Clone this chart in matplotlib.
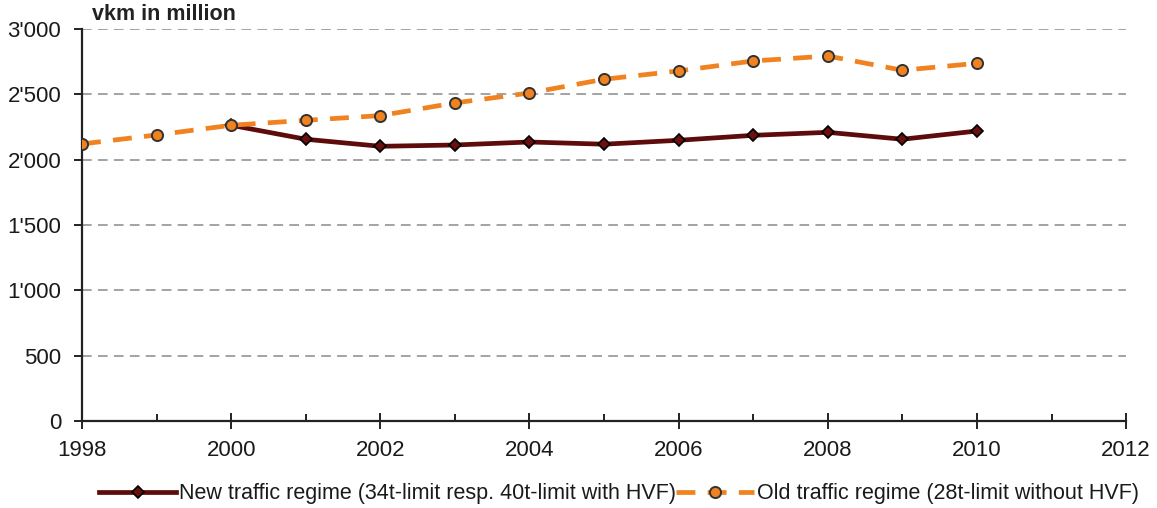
import matplotlib.pyplot as plt
from matplotlib.ticker import FuncFormatter, MultipleLocator

plt.rcParams['font.family'] = ['Liberation Sans', 'DejaVu Sans']

# values (vkm in million)
years_new = [2000, 2001, 2002, 2003, 2004, 2005, 2006, 2007, 2008, 2009, 2010]
new_regime = [2263, 2156, 2102, 2112, 2135, 2118, 2148, 2186, 2209, 2156, 2219]

years_old = [1998, 1999, 2000, 2001, 2002, 2003, 2004, 2005, 2006, 2007, 2008, 2009, 2010]
old_regime = [2120, 2189, 2263, 2301, 2337, 2434, 2510, 2615, 2679, 2755, 2793, 2684, 2737]

label_new = "New traffic regime (34t-limit resp. 40t-limit with HVF)"
label_old = "Old traffic regime (28t-limit without HVF)"

fig = plt.figure(figsize=(11.57, 5.08), dpi=100)
ax = fig.add_axes([0.0709, 0.1713, 0.9024, 0.7717])

# grid lines
for yv in range(500, 3001, 500):
    ax.axhline(yv, color='#a3a3a3', lw=1.4, ls=(0, (5, 3.2)), zorder=1)

ax.plot(years_new, new_regime, color='#5e0b0b', lw=3.4, marker='D', ms=6,
        mfc='#6b0f0f', mec='black', mew=1.2, label=label_new, zorder=3)
ax.plot(years_old, old_regime, color='#f08220', lw=3.4, ls=(0, (4, 2.6)), marker='o', ms=8,
        mfc='#f08220', mec='#333333', mew=1.4, label=label_old, zorder=4)

ax.set_xlim(1998, 2012)
ax.set_ylim(0, 3000)
ax.xaxis.set_major_locator(MultipleLocator(2))
ax.xaxis.set_minor_locator(MultipleLocator(1))
ax.yaxis.set_major_locator(MultipleLocator(500))
ax.yaxis.set_major_formatter(FuncFormatter(lambda v, p: f"{int(v):,}".replace(",", "'")))

for s in ['top', 'right']:
    ax.spines[s].set_visible(False)
for s in ['left', 'bottom']:
    ax.spines[s].set_color('#222222')
    ax.spines[s].set_linewidth(1.6)

ax.tick_params(axis='x', which='major', direction='inout', length=12, width=1.4,
               labelsize=16, pad=8, color='#222222', labelcolor='#1a1a1a')
ax.tick_params(axis='x', which='minor', direction='in', length=5, width=1.4, color='#222222')
ax.tick_params(axis='y', which='major', direction='out', length=6, width=1.4,
               labelsize=16, pad=9, color='#222222', labelcolor='#1a1a1a')

fig.text(0.0795, 0.971, "vkm in million", fontsize=15.5, fontweight='bold', ha='left', va='center',
         color='#222222')

fig.legend(loc='center', bbox_to_anchor=(0.535, 0.028), ncol=2, frameon=False,
           fontsize=15.5, handlelength=3.6, handletextpad=0.15, columnspacing=0.0,
           labelcolor='#1a1a1a')

fig.savefig("out.png", dpi=100)
